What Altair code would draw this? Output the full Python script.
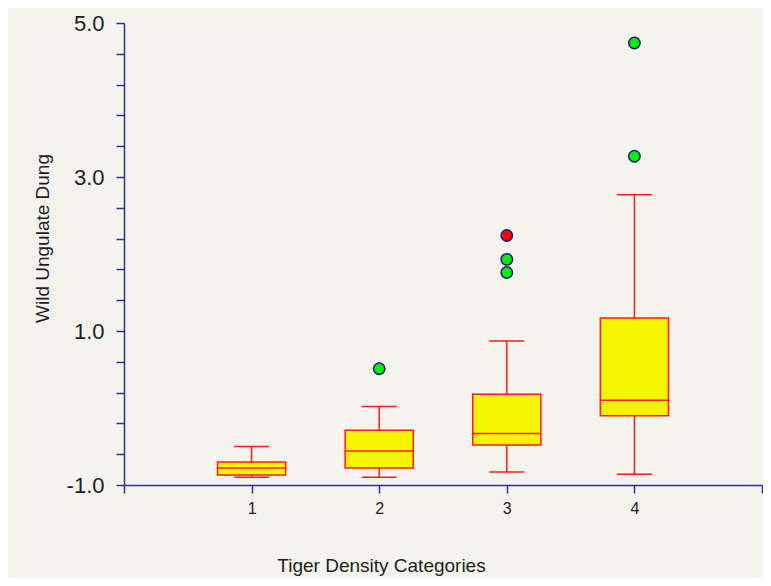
import altair as alt
import pandas as pd

# ---- data ----
categories = [1, 2, 3, 4]
whisker_low = [-0.90, -0.90, -0.83, -0.86]
q1 = [-0.87, -0.78, -0.48, -0.10]
median = [-0.78, -0.56, -0.33, 0.10]
q3 = [-0.70, -0.29, 0.18, 1.17]
whisker_high = [-0.50, 0.02, 0.87, 2.77]

outlier_cat = [2, 3, 3, 3, 4, 4]
outlier_val = [0.51, 1.76, 1.93, 2.24, 3.27, 4.74]
outlier_kind = ["near", "near", "near", "far", "near", "near"]

x_ticks = [0, 1, 2, 3, 4, 5]
x_labels = ["1", "2", "3", "4"]
y_ticks = [-1.0, -0.6, -0.2, 0.2, 0.6, 1.0, 1.4, 1.8, 2.2, 2.6, 3.0, 3.4, 3.8, 4.2, 4.6, 5.0]
y_labels = ["-1.0", "1.0", "3.0", "5.0"]

boxes = pd.DataFrame({
    "cat": categories, "low": whisker_low, "q1": q1, "med": median,
    "q3": q3, "high": whisker_high,
})
outliers = pd.DataFrame({"cat": outlier_cat, "val": outlier_val, "kind": outlier_kind})

AXIS_COLOR = "#2e2e9a"
BG = "#f4f3ed"
TXT = "#1e1e1e"

xscale = alt.Scale(domain=[0, 5], nice=False, zero=False)
yscale = alt.Scale(domain=[-1, 5], nice=False, zero=False)

x_label_expr = "indexof(%s, format(datum.value, 'd')) >= 0 ? format(datum.value, 'd') : ''" % str(x_labels)
y_str = "((datum.value < 0 ? '-' : '') + format(abs(datum.value), '.1f'))"
y_label_expr = "indexof(%s, %s) >= 0 ? %s : ''" % (str(y_labels), y_str, y_str)

xaxis = alt.Axis(
    values=x_ticks, tickCount=40, labelExpr=x_label_expr, grid=False, labelOverlap=False,
    domainColor=AXIS_COLOR, tickColor=AXIS_COLOR, tickSize=8, tickWidth=1.5, domainWidth=1.5,
    labelFont="Liberation Sans", labelFontSize=16, labelColor=TXT, labelPadding=7,
    title="Tiger Density Categories", titleFont="Liberation Sans", titleFontSize=19,
    titleFontWeight="normal", titleColor=TXT,
    titleX=257, titleY=80, titleAnchor="start", titleAlign="center", titleBaseline="middle",
)
yaxis = alt.Axis(
    values=y_ticks, tickCount=40, labelExpr=y_label_expr, grid=False, labelOverlap=False,
    domainColor=AXIS_COLOR, tickColor=AXIS_COLOR, tickSize=8, tickWidth=1.5, domainWidth=1.5,
    labelFont="Liberation Sans", labelFontSize=22, labelColor=TXT, labelPadding=12,
    title="Wild Ungulate Dung", titleFont="Liberation Sans", titleFontSize=19,
    titleFontWeight="normal", titleColor=TXT,
    titleX=-82, titleY=215, titleAngle=-90, titleAlign="center", titleBaseline="middle",
)

base = alt.Chart(boxes).transform_calculate(
    bx1="datum.cat - 0.267", bx2="datum.cat + 0.267",
    cx1="datum.cat - 0.137", cx2="datum.cat + 0.137",
)

RED = "#ff1a1a"

upper_whisker = base.mark_rule(color=RED, strokeWidth=1.5).encode(
    x=alt.X("cat:Q", scale=xscale, axis=xaxis),
    y=alt.Y("q3:Q", scale=yscale, axis=yaxis),
    y2="high:Q",
)
lower_whisker = base.mark_rule(color=RED, strokeWidth=1.5).encode(
    x="cat:Q", y="low:Q", y2="q1:Q",
)
box = base.mark_rect(fill="#f5f500", stroke=RED, strokeWidth=1.5).encode(
    x="bx1:Q", x2="bx2:Q", y="q1:Q", y2="q3:Q",
)
med_line = base.mark_rule(color=RED, strokeWidth=1.5).encode(
    x="bx1:Q", x2="bx2:Q", y="med:Q",
)
cap_hi = base.mark_rule(color=RED, strokeWidth=1.5).encode(
    x="cx1:Q", x2="cx2:Q", y="high:Q",
)
cap_lo = base.mark_rule(color=RED, strokeWidth=1.5).encode(
    x="cx1:Q", x2="cx2:Q", y="low:Q",
)
points = alt.Chart(outliers).mark_point(
    shape="circle", filled=True, size=130, stroke="#1a1a80", strokeWidth=1.5, opacity=1,
).encode(
    x="cat:Q", y="val:Q",
    fill=alt.Fill("kind:N", scale=alt.Scale(domain=["near", "far"], range=["#00ee00", "#ff0000"]), legend=None),
)

chart = alt.layer(
    upper_whisker, lower_whisker, box, med_line, cap_hi, cap_lo, points
).properties(
    width=638, height=462,
    background=BG,
    padding={"left": 116, "top": 15, "right": 1, "bottom": 93},
    autosize=alt.AutoSizeParams(type="none"),
).configure_view(stroke=None)

chart.save("out.html", embed_options={"renderer": "svg", "actions": False})
